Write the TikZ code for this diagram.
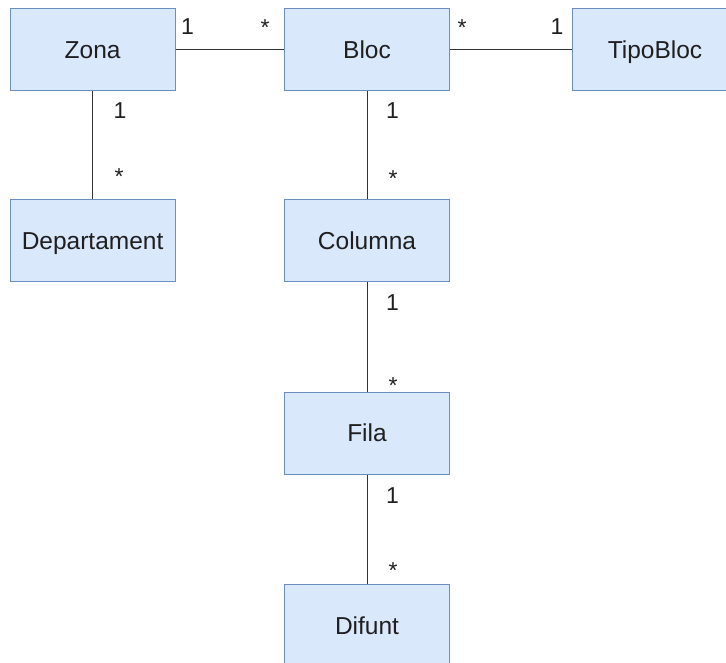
\documentclass[tikz,border=0pt]{standalone}
\usepackage{fontspec}
\setmainfont{Liberation Sans}
\definecolor{classfill}{HTML}{DAE8FC}
\definecolor{classline}{HTML}{6C8EBF}
\definecolor{linkline}{HTML}{333333}
\begin{document}
\begin{tikzpicture}[x=1pt,y=-1pt,
  classbox/.style={draw=classline, fill=classfill, line width=1pt,
    minimum width=165pt, minimum height=82pt, inner sep=0pt,
    text height=17.5pt, text depth=0pt,
    font=\fontsize{24.5}{28}\selectfont, text=black!88},
  link/.style={draw=linkline, line width=1pt},
  mult/.style={anchor=base, inner sep=0pt, font=\fontsize{23}{27}\selectfont, text=black!88}]
  \useasboundingbox (0,0) rectangle (726,663);

  % classes
  \node[classbox] (zona)    at (92.6,49.5)  {Zona};
  \node[classbox] (bloc)    at (367,49.5)   {Bloc};
  \node[classbox] (tipo)    at (655,49.5)   {TipoBloc};
  \node[classbox] (dept)    at (92.6,241)   {Departament};
  \node[classbox] (columna) at (367,241)    {Columna};
  \node[classbox] (fila)    at (367,433)    {Fila};
  \node[classbox] (difunt)  at (367,625.5)  {Difunt};

  % associations
  \draw[link] (zona) -- (bloc);
  \draw[link] (bloc) -- (tipo);
  \draw[link] (zona) -- (dept);
  \draw[link] (bloc) -- (columna);
  \draw[link] (columna) -- (fila);
  \draw[link] (fila) -- (difunt);

  % multiplicities
  \node[mult] (m1) at (187.5,35) {1};
  \node[mult] (m2) at (265,36)   {*};
  \node[mult] (m3) at (462,36)   {*};
  \node[mult] (m4) at (557,35)   {1};
  \node[mult] (m5) at (120,119)  {1};
  \node[mult] (m6) at (119,185)  {*};
  \node[mult] (m7) at (392.5,119) {1};
  \node[mult] (m8) at (393,187)  {*};
  \node[mult] (m9) at (392.5,311) {1};
  \node[mult] (m10) at (393,393) {*};
  \node[mult] (m11) at (392.5,503) {1};
  \node[mult] (m12) at (393,578) {*};
\end{tikzpicture}
\end{document}
